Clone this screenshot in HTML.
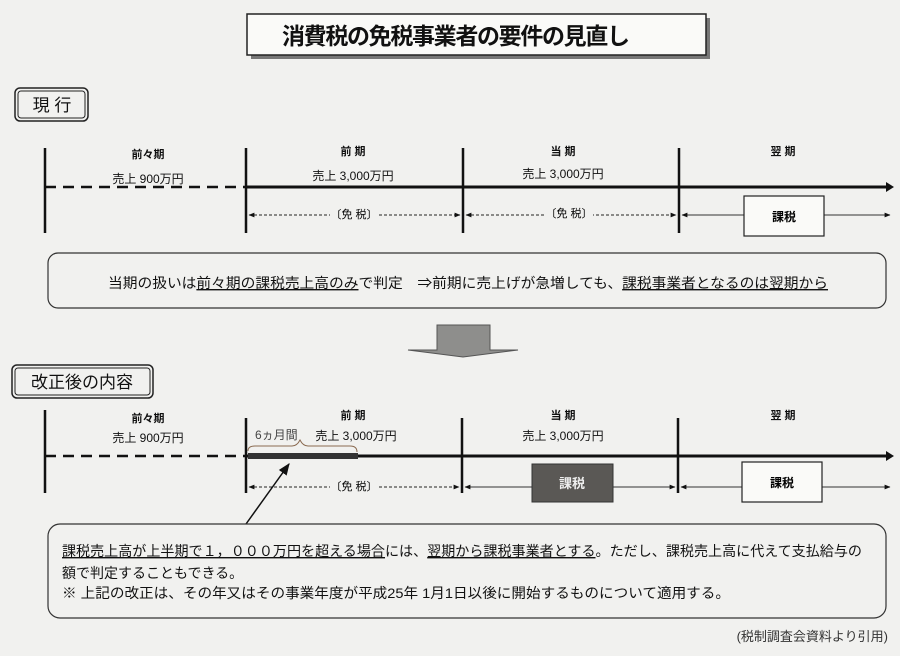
<!DOCTYPE html>
<html><head><meta charset="utf-8"><style>
body{margin:0;background:#f1f1ef;}
svg{display:block;font-family:"Liberation Sans","Noto Sans CJK JP",sans-serif;}
</style></head><body>
<svg width="900" height="656" viewBox="0 0 900 656" xmlns="http://www.w3.org/2000/svg">
<defs>
<marker id="ah" viewBox="0 0 10 10" refX="9" refY="5" markerWidth="6" markerHeight="6" orient="auto-start-reverse"><path d="M0,1L10,5L0,9z" fill="#111"/></marker>
<marker id="ab" viewBox="0 0 10 10" refX="9" refY="5" markerWidth="8" markerHeight="8" orient="auto"><path d="M0,1L10,5L0,9z" fill="#111"/></marker>
</defs>
<rect width="900" height="656" fill="#f1f1ef"/>
<!-- title -->
<rect x="251" y="18" width="459" height="41" fill="#777"/>
<rect x="247" y="14" width="459" height="41" fill="#fafaf8" stroke="#222" stroke-width="1.5"/>
<text x="282" y="44" font-size="23" textLength="348" fill="#111" font-weight="bold">消費税の免税事業者の要件の見直し</text>
<!-- 現行 -->
<rect x="15" y="88" width="73" height="33" rx="5" fill="none" stroke="#222" stroke-width="1.5"/>
<rect x="18" y="91" width="67" height="27" rx="3" fill="none" stroke="#222" stroke-width="1"/>
<text x="52" y="111" font-size="17" text-anchor="middle" fill="#111">現 行</text>
<!-- timeline 1 -->
<g stroke="#111" stroke-width="2.5"><line x1="45" y1="148" x2="45" y2="233"/><line x1="246" y1="148" x2="246" y2="233"/><line x1="463" y1="148" x2="463" y2="233"/><line x1="679" y1="148" x2="679" y2="233"/></g>
<line x1="45" y1="187" x2="246" y2="187" stroke="#111" stroke-width="2.5" stroke-dasharray="11,7"/>
<line x1="246" y1="187" x2="888" y2="187" stroke="#111" stroke-width="3"/>
<path d="M886,182L894,187L886,192z" fill="#111"/>
<g font-size="11" fill="#111" text-anchor="middle" font-weight="bold">
<text x="148" y="158">前々期</text><text x="353" y="155">前 期</text><text x="563" y="155">当 期</text><text x="783" y="155">翌 期</text>
</g>
<g font-size="12" fill="#111" text-anchor="middle">
<text x="148" y="183">売上  900万円</text><text x="353" y="180">売上  3,000万円</text><text x="563" y="178">売上  3,000万円</text>
</g>
<g stroke="#222" stroke-width="1" stroke-dasharray="3,2" fill="none">
<line x1="249" y1="215" x2="460" y2="215" marker-start="url(#ah)" marker-end="url(#ah)"/>
<line x1="466" y1="215" x2="676" y2="215" marker-start="url(#ah)" marker-end="url(#ah)"/>
</g>
<rect x="330" y="206" width="48" height="16" fill="#f1f1ef"/><text x="354" y="218" font-size="11" text-anchor="middle">〔免 税〕</text>
<rect x="545" y="205" width="48" height="16" fill="#f1f1ef"/><text x="569" y="217" font-size="11" text-anchor="middle">〔免 税〕</text>
<line x1="682" y1="215" x2="890" y2="215" stroke="#333" stroke-width="1" marker-start="url(#ah)" marker-end="url(#ah)"/>
<rect x="744" y="196" width="80" height="40" fill="#fafaf8" stroke="#222" stroke-width="1.2"/>
<text x="784" y="221" font-size="12" text-anchor="middle" font-weight="bold">課税</text>
<rect x="48" y="253" width="838" height="55" rx="10" fill="none" stroke="#333" stroke-width="1.2"/>
<text x="108" y="288" font-size="14" textLength="720" lengthAdjust="spacingAndGlyphs" fill="#111">当期の扱いは<tspan text-decoration="underline">前々期の課税売上高のみ</tspan>で判定　⇒前期に売上げが急増しても、<tspan text-decoration="underline">課税事業者となるのは翌期から</tspan></text>
<!-- big arrow -->
<path d="M437,325H490V350H518L463,357L408,350H437z" fill="#8e8e8c" stroke="#555" stroke-width="1"/>
<!-- 改正後 -->
<rect x="12" y="365" width="141" height="33" rx="5" fill="none" stroke="#222" stroke-width="1.5"/>
<rect x="15" y="368" width="135" height="27" rx="3" fill="none" stroke="#222" stroke-width="1"/>
<text x="82" y="388" font-size="17" text-anchor="middle" fill="#111">改正後の内容</text>
<!-- timeline 2 -->
<g stroke="#111" stroke-width="2.5"><line x1="45" y1="410" x2="45" y2="493"/><line x1="246" y1="418" x2="246" y2="493"/><line x1="462" y1="418" x2="462" y2="493"/><line x1="678" y1="418" x2="678" y2="493"/></g>
<line x1="45" y1="456" x2="246" y2="456" stroke="#111" stroke-width="2.5" stroke-dasharray="11,7"/>
<line x1="246" y1="456" x2="888" y2="456" stroke="#111" stroke-width="3"/>
<path d="M886,451L894,456L886,461z" fill="#111"/>
<rect x="248" y="453" width="110" height="6" fill="#333"/>
<path d="M248,451Q248,446 255,446H292Q297,446 300,440Q303,446 308,446H350Q357,446 357,452" fill="none" stroke="#8a6a50" stroke-width="1"/>
<g font-size="11" fill="#111" text-anchor="middle" font-weight="bold">
<text x="148" y="422">前々期</text><text x="353" y="419">前 期</text><text x="563" y="419">当 期</text><text x="783" y="419">翌 期</text>
</g>
<g font-size="12" fill="#111" text-anchor="middle">
<text x="148" y="442">売上  900万円</text><text x="356" y="440">売上  3,000万円</text><text x="563" y="440">売上  3,000万円</text>
</g>
<text x="255" y="439" font-size="12" fill="#444">6ヵ月間</text>
<line x1="249" y1="487" x2="459" y2="487" stroke="#222" stroke-dasharray="3,2" marker-start="url(#ah)" marker-end="url(#ah)"/>
<rect x="330" y="478" width="48" height="16" fill="#f1f1ef"/><text x="354" y="490" font-size="11" text-anchor="middle">〔免 税〕</text>
<line x1="465" y1="487" x2="675" y2="487" stroke="#333" marker-start="url(#ah)" marker-end="url(#ah)"/>
<line x1="681" y1="487" x2="890" y2="487" stroke="#333" marker-start="url(#ah)" marker-end="url(#ah)"/>
<rect x="532" y="464" width="81" height="38" fill="#5a5855" stroke="#333"/>
<text x="572" y="488" font-size="13" text-anchor="middle" fill="#eee" font-weight="bold">課税</text>
<rect x="742" y="462" width="80" height="40" fill="#fafaf8" stroke="#222" stroke-width="1.2"/>
<text x="782" y="487" font-size="12" text-anchor="middle" font-weight="bold">課税</text>
<line x1="246" y1="524" x2="289" y2="464" stroke="#111" stroke-width="1.5" marker-end="url(#ab)"/>
<rect x="48" y="524" width="838" height="94" rx="12" fill="none" stroke="#333" stroke-width="1.2"/>
<g font-size="14" fill="#111" lengthAdjust="spacingAndGlyphs">
<text x="62" y="556" textLength="800" lengthAdjust="spacingAndGlyphs"><tspan text-decoration="underline">課税売上高が上半期で１，０００万円を超える場合</tspan>には、<tspan text-decoration="underline">翌期から課税事業者とする</tspan>。ただし、課税売上高に代えて支払給与の</text>
<text x="62" y="578">額で判定することもできる。</text>
<text x="62" y="598" textLength="668" lengthAdjust="spacingAndGlyphs">※ 上記の改正は、その年又はその事業年度が平成25年 1月1日以後に開始するものについて適用する。</text>
</g>
<text x="888" y="641" font-size="13" text-anchor="end" fill="#333">(税制調査会資料より引用)</text>
</svg>
</body></html>
